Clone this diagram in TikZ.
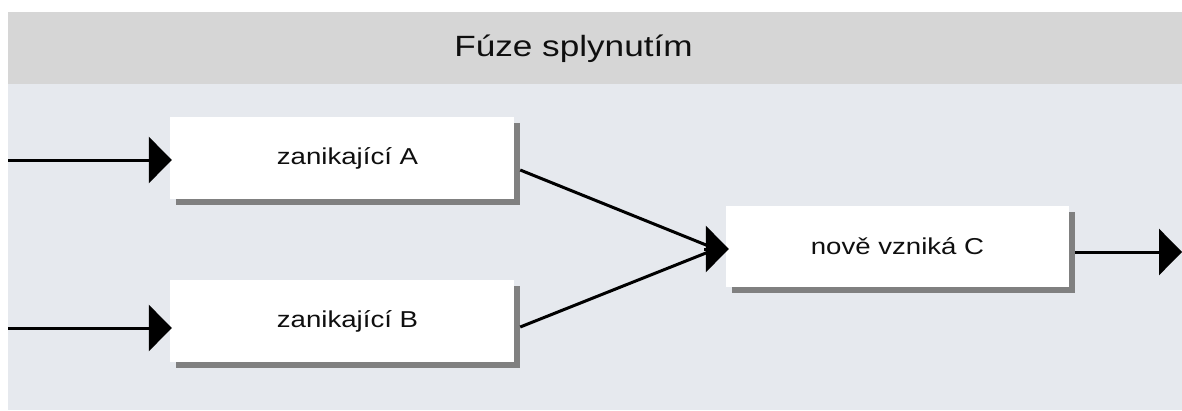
\documentclass[tikz,border=0pt]{standalone}
\usepackage{fontspec}
\setmainfont{Liberation Sans}
\newfontfamily\labfont[FakeStretch=1.2]{Liberation Sans}
\usetikzlibrary{arrows.meta,calc,shadows}
\definecolor{hdr}{RGB}{214,214,214}
\definecolor{bgc}{RGB}{230,233,238}
\definecolor{shd}{RGB}{128,128,128}
\definecolor{txt}{RGB}{15,15,15}
\begin{document}
\begin{tikzpicture}[x=1pt,y=-1pt,
  box/.style={fill=white, draw=none, inner sep=0pt,
    minimum width=344pt, minimum height=82pt,
    font=\labfont\fontsize{23}{28}\selectfont, text=txt,
    drop shadow={shadow xshift=6pt, shadow yshift=-6pt, opacity=1, fill=shd}},
  title/.style={font=\labfont\fontsize{29.3}{34}\selectfont, text=txt, inner sep=0pt},
  line/.style={draw=black, line width=3pt},
  conn/.style={line, -{Triangle[length=23pt,width=46pt]}}]
\useasboundingbox (0,0) rectangle (1182,410);
\fill[white] (0,0) rectangle (1182,410);
\fill[bgc] (8,84) rectangle (1182,410);
\fill[hdr] (8,12) rectangle (1182,84);
\node[title] (T) at (573.5,48.5) {Fúze splynutím};
\node[box] (A) at (342,158) {\hspace*{11pt}zanikající A};
\node[box] (B) at (342,321) {\hspace*{11pt}zanikající B};
\node[box, minimum width=343pt, minimum height=81pt] (C) at (897.5,246.5) {nově vzniká C};
\coordinate (inA) at (8,160);
\coordinate (inB) at (8,328);
\coordinate (m) at (716,249);
\coordinate (mb) at (704,249);
\coordinate (out) at (1182,252);
\draw[conn] (inA) -- ([xshift=2pt]A.west |- inA);
\draw[conn] (inB) -- ([xshift=2pt]B.west |- inB);
\draw[line] ([shift={(6,12)}]A.east) -- (m);
\draw[line] ([shift={(6,6)}]B.east) -- (m);
\draw[conn] (mb) -- ([xshift=3pt]C.west |- mb);
\draw[conn] ([xshift=6pt]C.east |- out) -- (out);
\end{tikzpicture}
\end{document}
